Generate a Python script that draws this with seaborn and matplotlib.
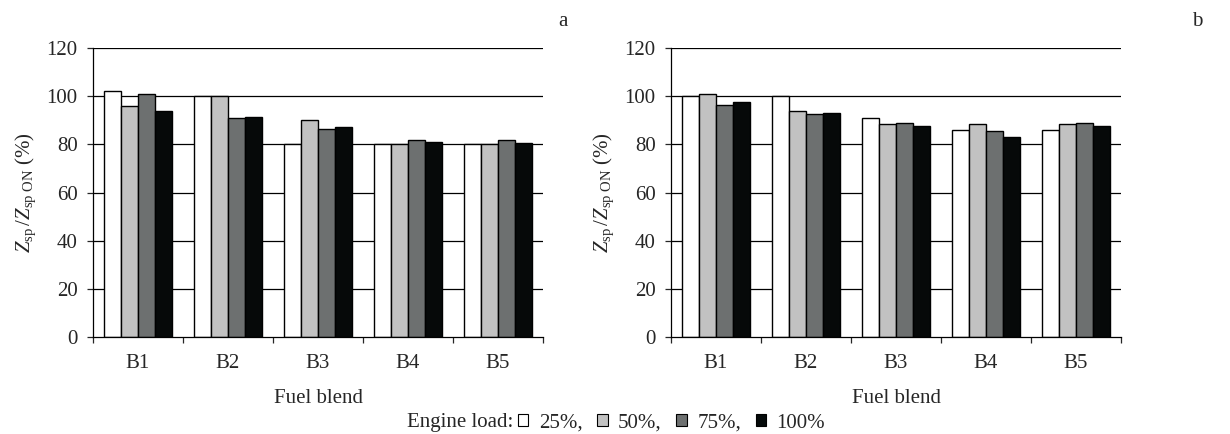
import numpy as np
import pandas as pd
import seaborn as sns
import matplotlib.pyplot as plt
from matplotlib.patches import Patch

# ----------------------------- data ------------------------------
blends = ["B1", "B2", "B3", "B4", "B5"]
loads = ["25%", "50%", "75%", "100%"]

a_25 = [102, 100, 80, 80, 80]
a_50 = [96, 100, 90, 80, 80]
a_75 = [101, 91, 86.5, 82, 82]
a_100 = [94, 91.5, 87, 81, 80.5]

b_25 = [100, 100, 91, 86, 86]
b_50 = [101, 94, 88.5, 88.5, 88.5]
b_75 = [96.5, 92.5, 89, 85.5, 89]
b_100 = [97.5, 93, 87.5, 83, 87.5]

colors = ["#ffffff", "#c2c2c2", "#6d7070", "#050a0a"]


def to_long(series):
    rows = []
    for load, vals in zip(loads, series):
        for blend, v in zip(blends, vals):
            rows.append({"blend": blend, "load": load, "value": v})
    return pd.DataFrame(rows)


df_a = to_long([a_25, a_50, a_75, a_100])
df_b = to_long([b_25, b_50, b_75, b_100])

# ----------------------------- style ------------------------------
sns.set_style("white")
plt.rcParams["font.family"] = ["Liberation Serif", "DejaVu Serif"]
plt.rcParams["mathtext.fontset"] = "custom"
plt.rcParams["mathtext.rm"] = "Liberation Serif"
plt.rcParams["mathtext.it"] = "Liberation Serif:italic"

fs = 15
fig = plt.figure(figsize=(12.3, 4.34), dpi=100)
ax_a = fig.add_axes([93 / 1230, 1 - 337 / 434, 450 / 1230, 289 / 434])
ax_b = fig.add_axes([671 / 1230, 1 - 337 / 434, 450 / 1230, 289 / 434])

ylab = r"$Z_{\mathrm{sp}}\,/Z_{\mathrm{sp\ ON}}$ (%)"

for ax, d, tag, tag_x in [(ax_a, df_a, "a", 563), (ax_b, df_b, "b", 1197)]:
    for y in range(20, 121, 20):
        ax.axhline(y, color="black", lw=0.9, zorder=0)
    sns.barplot(data=d, x="blend", y="value", hue="load", hue_order=loads,
                palette=colors, width=0.75, edgecolor="black", linewidth=1.0,
                legend=False, ax=ax, zorder=2)
    ax.set_ylim(0, 120)
    ax.set_xlim(-0.5, 4.5)
    ax.set_yticks(range(0, 121, 20))
    ax.tick_params(axis="y", labelsize=fs, length=4, width=0.9, direction="out",
                   left=True, pad=7)
    ax.set_xticks(np.arange(-0.5, 5, 1))
    ax.set_xticklabels([])
    ax.tick_params(axis="x", which="major", length=4, width=0.9, direction="out", bottom=True)
    ax.set_xticks(range(5), minor=True)
    ax.set_xticklabels(blends, minor=True, fontsize=fs)
    ax.tick_params(axis="x", which="minor", length=0, pad=12)
    for s in ["top", "right"]:
        ax.spines[s].set_visible(False)
    for s in ["left", "bottom"]:
        ax.spines[s].set_color("black")
        ax.spines[s].set_linewidth(0.9)
    ax.set_xlabel("Fuel blend", fontsize=fs, labelpad=12)
    ax.set_ylabel(ylab, fontsize=fs, labelpad=6)
    fig.text(tag_x / 1230, 1 - 22 / 434, tag, fontsize=fs, ha="center", va="center")

# ----------------------------- legend ------------------------------
handles = [Patch(facecolor=c, edgecolor="black", linewidth=0.8) for c in colors]
labels = ["25%,", "50%,", "75%,", "100%"]
fig.text(513 / 1230, 1 - 423 / 434, "Engine load:", fontsize=fs, ha="right", va="center")
fig.legend(handles, labels, loc="center left", bbox_to_anchor=(518 / 1230, 1 - 423 / 434),
           ncol=4, frameon=False, fontsize=fs, handlelength=0.5, handleheight=0.5,
           handletextpad=0.5, columnspacing=0.7, borderaxespad=0, borderpad=0)

fig.savefig("out.png", dpi=100)
